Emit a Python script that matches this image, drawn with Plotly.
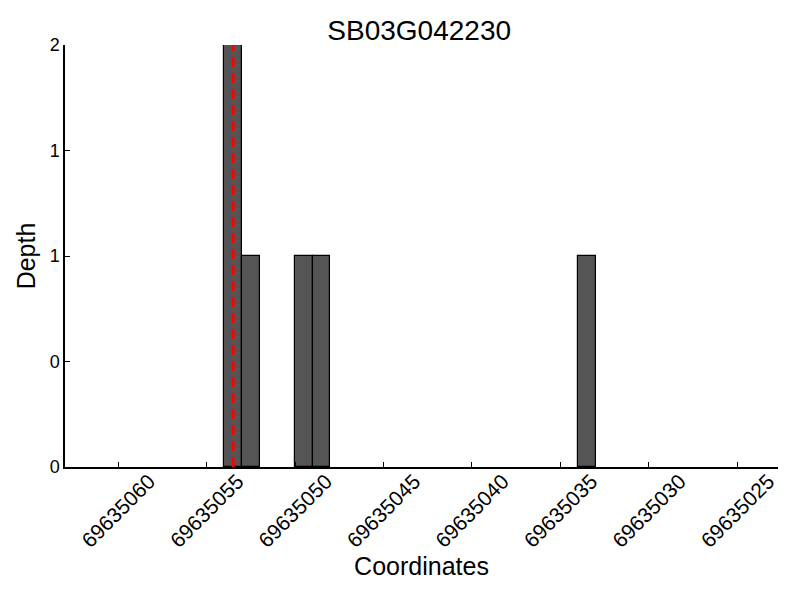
import plotly.graph_objects as go

title = "SB03G042230"
positions = [69635053.5, 69635052.5, 69635049.5, 69635048.5, 69635033.5]
depths = [2, 1, 1, 1, 1]
marker_pos = 69635053.5
x_ticks = [69635060, 69635055, 69635050, 69635045, 69635040, 69635035, 69635030, 69635025]
y_tickvals = [0, 0.5, 1, 1.5, 2]
y_ticktext = ["0", "0", "1", "1", "2"]

fig = go.Figure()
fig.add_trace(go.Bar(
    x=positions, y=depths, width=1,
    marker=dict(color="#555555", line=dict(color="black", width=1.2)),
    showlegend=False,
))
fig.add_trace(go.Scatter(
    x=[marker_pos, marker_pos], y=[0, max(depths)], mode="lines",
    line=dict(color="red", width=3, dash="10px,6px"), showlegend=False,
))

font = "Liberation Sans, Arial, sans-serif"
fig.update_layout(
    width=800, height=600,
    paper_bgcolor="white", plot_bgcolor="white",
    margin=dict(l=57, r=30, t=37, b=141),
    title=dict(text=title, x=0.514, xanchor="center", y=0.963, yanchor="middle",
               font=dict(family=font, size=28, color="black")),
    font=dict(family=font, color="black"),
    bargap=0,
)
fig.update_xaxes(
    range=[69635063, 69635022.7], automargin=False,
    tickvals=x_ticks, ticktext=[str(v) for v in x_ticks],
    tickangle=-45, ticks="inside", ticklen=5, tickcolor="black",
    ticklabelshift=-31, ticklabelstandoff=-8,
    showline=True, linecolor="black", linewidth=1.5, showgrid=False, zeroline=False,
    tickfont=dict(size=21),
    title=dict(text="Coordinates", font=dict(size=25), standoff=0),
)
fig.update_yaxes(
    range=[0, 2], automargin=False,
    tickvals=y_tickvals, ticktext=y_ticktext,
    ticks="inside", ticklen=5, tickcolor="black",
    showline=True, linecolor="black", linewidth=1.5, showgrid=False, zeroline=False,
    tickfont=dict(size=18),
    title=dict(text="Depth", font=dict(size=25), standoff=7),
)
fig.write_html("out.html")
